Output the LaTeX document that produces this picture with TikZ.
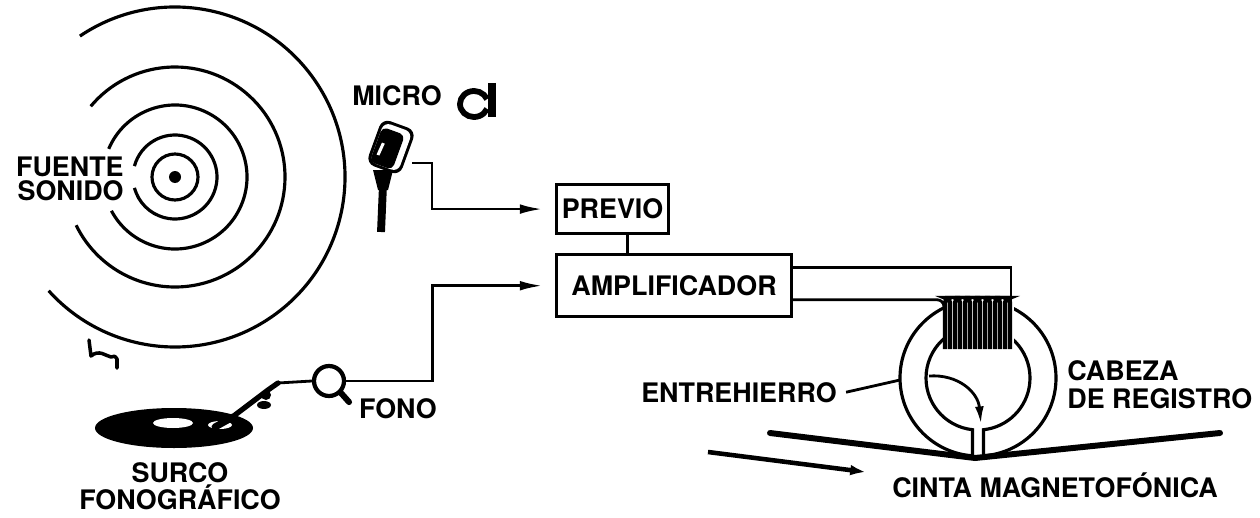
\documentclass[tikz,border=0pt]{standalone}
\usepackage{fontspec}
\setmainfont{TeX Gyre Heros}
\usetikzlibrary{calc, arrows.meta, positioning}
\tikzset{
        block/.style = {draw, rectangle, line width=1.8pt, inner sep=0pt,
            font=\bfseries\fontsize{15.3}{14}\selectfont},
        lbl/.style = {inner sep=0pt, font=\bfseries\fontsize{15.3}{14}\selectfont},
        wire/.style = {line width=1.6pt},
        ring/.style = {line width=1.8pt},
        arrow/.style = {wire, -{Latex[length=13pt,width=5.5pt]}},
        tape/.style = {line width=3.4pt, line cap=round},
}
\begin{document}
\begin{tikzpicture}[x=0.02cm, y=-0.02cm]
\useasboundingbox (0,0) rectangle (1260,517);

% fuente y ondas
\coordinate (fuente) at (175,177);
\fill (fuente) circle (6);
\draw [ring] (fuente) circle (23);
\draw [ring] (fuente) ++(-165:42) arc[start angle=-165, end angle=165, radius=42];
\draw [ring] (fuente) ++(-157:72) arc[start angle=-157, end angle=152, radius=72];
\draw [ring] (fuente) ++(-140:110) arc[start angle=-140, end angle=154, radius=110];
\draw [ring] (fuente) ++(-124:170) arc[start angle=-124, end angle=138, radius=170];
\node [lbl, align=right, anchor=east] (sonido) at (124,179) {FUENTE\\SONIDO};
\draw [line width=2pt, line cap=round, line join=round] (89,340) -- (91,356)
    .. controls (99,349) and (106,356) .. (111,357) .. controls (115,356) .. (117,359) -- (117,368);

% microfono
\node [lbl, anchor=base] (micro) at (397,106) {MICRO};
\draw [line width=3.3pt] (474,104) ++(-22:14 and 13) arc[start angle=-22, end angle=-338, x radius=14, y radius=13];
\draw [line width=4.5pt] (492,83) -- (492,117);
\begin{scope}[shift={(391,147)}, rotate=-20]
\fill [rounded corners=5] (-18,-24) rectangle (18,24);
\fill [white, rounded corners=4] (-15,-21) rectangle (15,21);
\fill [rounded corners=3] (-15,-16) rectangle (9,21);
\fill [white] (-10,-1) -- (-7,-1) -- (-8,12) -- (-11,12) -- cycle;
\end{scope}
\fill (373,170) -- (393,170) -- (388,190) -- (378,190) -- cycle;
\draw [line width=4.5pt] (383,185) -- (381,232);
\coordinate (micsal) at (412,163);

% bloques
\node [block, minimum width=2.24cm, minimum height=0.98cm, anchor=north west] (previo) at (555,183) {PREVIO};
\node [block, minimum width=4.7cm, minimum height=1.24cm, below right=0.36cm and 0cm of previo.south west] (amp) {AMPLIFICADOR};
\coordinate (enlace) at ($(previo.south)+(15,0)$);
\draw [wire] (enlace) -- (enlace |- amp.north);
\draw [arrow, shorten >=7pt] (micsal) -- ++(20,0) |- (previo.west);

% fonocaptor y disco
\coordinate (disco) at (174,428);
\fill (disco) ellipse (79 and 20);
\fill [white] (173,423) ellipse (20 and 5);
\fill [white] (220,425) ellipse (12 and 4);
\node [draw, circle, line width=2.4pt, minimum size=0.6cm, inner sep=0pt] (fono) at (329,381) {};
\draw [line width=3.4pt, line cap=round] (fono.-45) -- ++(8,9);
\coordinate (brazo) at (278,383);
\draw [wire] (fono.west) -- (brazo);
\draw [line width=3pt, line cap=round, line join=round] (brazo) -- (268,390) -- (231,418);
\fill (266,395) ellipse (5 and 5);
\fill (264,405) ellipse (7 and 4);
\draw [line width=4pt, line cap=round] (233,417) -- (215,427);
\node [lbl, anchor=base] (fonolbl) at (398,418) {FONO};
\node [lbl, align=center] (surco) at (180,486) {SURCO\\FONOGRÁFICO};
\draw [arrow, shorten >=7pt] (fono.east) -- ++(86,0) |- (amp.west);

% cabeza de registro
\coordinate (nucleo) at (978,378);
\draw [ring] (nucleo) ++(86:78) arc[start angle=86, end angle=-266, radius=78]
    -- ($(nucleo)+(96:52)$) arc[start angle=96, end angle=444, radius=52] -- cycle;
\fill [white] (943,296) rectangle (1014,350);
\foreach \i in {0,...,6}
  \draw [line width=2.4pt, rounded corners=2.5] (945+10*\i,349) -- (945+10*\i,298)
      -- (950+10*\i,298) -- (950+10*\i,349);
\coordinate (bobA) at (1011,347);
\coordinate (bobB) at (944,305);
\draw [wire] (amp.east) ++(0,-18) -| (bobA);
\draw [wire, rounded corners=4] (amp.east) ++(0,14) -| (bobB);
\coordinate (flujo) at (929,376);
\draw [wire, -{Latex[length=10pt,width=5pt]}] (flujo) .. controls (958,374) and (978,392) .. (981,424);

% cinta
\coordinate (cintaA) at (770,433);
\coordinate (cintaB) at (975,458);
\coordinate (cintaC) at (1220,433);
\draw [tape] (cintaA) -- (cintaB) -- (cintaC);
\coordinate (avanceA) at (708,452);
\coordinate (avanceB) at (873,473);
\draw [arrow, line width=2.6pt] (avanceA) -- (avanceB);

\node [lbl, anchor=base] (entre) at (739,402) {ENTREHIERRO};
\draw [wire] (entre.east) ++(9,0) -- ($(nucleo)+(-78,2)$);
\node [lbl, align=left, anchor=west] (cabeza) at (1067,385) {CABEZA\\[2pt]DE REGISTRO};
\node [lbl, anchor=base] (cinta) at (1055,497) {CINTA MAGNETOFÓNICA};
\end{tikzpicture}
\end{document}
